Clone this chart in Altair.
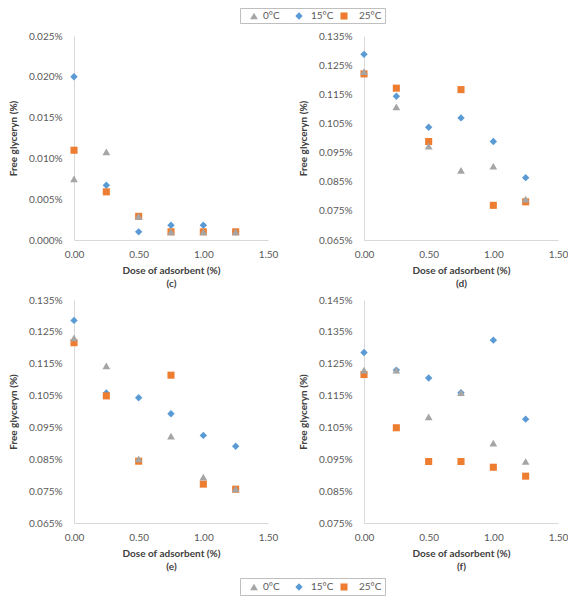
import altair as alt
import pandas as pd

# series and x positions
series = ["0°C", "15°C", "25°C"]
dose = [0.0, 0.25, 0.50, 0.75, 1.00, 1.25]

# free glycerin (%)
c_0C = [0.0075, 0.0108, 0.0029, 0.0010, 0.0010, 0.0010]
c_15C = [0.0200, 0.0067, 0.0010, 0.0018, 0.0018, 0.0010]
c_25C = [0.0110, 0.0059, 0.0029, 0.0010, 0.0010, 0.0010]

d_0C = [0.1228, 0.1107, 0.0972, 0.0889, 0.0903, 0.0790]
d_15C = [0.1287, 0.1143, 0.1037, 0.1069, 0.0988, 0.0864]
d_25C = [0.1220, 0.1171, 0.0988, 0.1166, 0.0769, 0.0781]

e_0C = [0.1231, 0.1143, 0.0851, 0.0923, 0.0794, 0.0757]
e_15C = [0.1286, 0.1058, 0.1043, 0.0993, 0.0925, 0.0891]
e_25C = [0.1216, 0.1049, 0.0844, 0.1114, 0.0772, 0.0756]

f_0C = [0.1230, 0.1230, 0.1083, 0.1159, 0.1001, 0.0943]
f_15C = [0.1285, 0.1230, 0.1205, 0.1159, 0.1324, 0.1076]
f_25C = [0.1216, 0.1049, 0.0943, 0.0943, 0.0925, 0.0897]

# axis ticks
x_ticks = [0.0, 0.5, 1.0, 1.5]
c_ticks = [0.000, 0.005, 0.010, 0.015, 0.020, 0.025]
d_ticks = [0.065, 0.075, 0.085, 0.095, 0.105, 0.115, 0.125, 0.135]
e_ticks = [0.065, 0.075, 0.085, 0.095, 0.105, 0.115, 0.125, 0.135]
f_ticks = [0.075, 0.085, 0.095, 0.105, 0.115, 0.125, 0.135, 0.145]

panels = {
    "c": (c_0C, c_15C, c_25C),
    "d": (d_0C, d_15C, d_25C),
    "e": (e_0C, e_15C, e_25C),
    "f": (f_0C, f_15C, f_25C),
}
# blue drawn first, then orange, grey on top
draw_rank = {"15°C": 0, "25°C": 1, "0°C": 2}

rows = []
for letter, vals in panels.items():
    for s, v in zip(series, vals):
        for d, y in zip(dose, v):
            rows.append({"panel": letter, "series": s, "dose": d,
                         "glycerin": y, "rank": draw_rank[s]})
df = pd.DataFrame(rows).sort_values("rank", kind="stable")

FONT = "Lato"
LABEL = "#595959"
TITLE = "#404040"
LINE = "#d9d9d9"

color_scale = alt.Scale(domain=series, range=["#A5A5A5", "#5B9BD5", "#ED7D31"])
shape_scale = alt.Scale(domain=series, range=["triangle-up", "diamond", "square"])


def panel(letter, ticks, height):
    return alt.Chart(df[df.panel == letter]).mark_point(
        filled=True, opacity=1
    ).encode(
        x=alt.X("dose:Q",
                scale=alt.Scale(domain=[0, 1.5], nice=False, zero=False),
                axis=alt.Axis(values=x_ticks, format=".2f",
                              labelFlush=False, labelOverlap=False,
                              title=["Dose of adsorbent (%)", f"({letter})"])),
        y=alt.Y("glycerin:Q",
                scale=alt.Scale(domain=[ticks[0], ticks[-1]], nice=False, zero=False),
                axis=alt.Axis(values=ticks, labelFlush=False, labelOverlap=False,
                              labelExpr="format(datum.value, '.3f') + '%'",
                              title="Free glyceryn (%)")),
        color=alt.Color("series:N", scale=color_scale, legend=None),
        shape=alt.Shape("series:N", scale=shape_scale, legend=None),
        size=alt.Size("series:N", scale=alt.Scale(domain=series, range=[70, 64, 115]),
                      legend=None),
        order=alt.Order("rank:Q"),
    ).properties(width=194, height=height)


def legend_box(h):
    # legend drawn as its own small view; origin lines up with panel (c)'s plot
    leg = pd.DataFrame({"series": series, "idx": list(range(len(series)))})
    sym = alt.Chart(leg).mark_point(filled=True, opacity=1).encode(
        x=alt.X("idx:Q", scale=alt.Scale(domain=[0, 2], range=[180, 270]), axis=None),
        y=alt.value(h / 2),
        color=alt.Color("series:N", scale=color_scale, legend=None),
        shape=alt.Shape("series:N", scale=shape_scale, legend=None),
        size=alt.Size("series:N", scale=alt.Scale(domain=series, range=[60, 50, 90]),
                      legend=None),
    )
    txt = alt.Chart(leg).mark_text(
        align="left", baseline="middle", font=FONT, fontSize=10, color=LABEL
    ).encode(
        x=alt.X("idx:Q", scale=alt.Scale(domain=[0, 2], range=[189, 285]), axis=None),
        y=alt.value(h / 2),
        text="series:N",
    )
    frame = alt.Chart(pd.DataFrame({"k": [0]})).mark_rect(
        fill="transparent", stroke="#bfbfbf", strokeWidth=1
    ).encode(
        x=alt.value(166.5), x2=alt.value(311.5), y=alt.value(0.5), y2=alt.value(h - 0.5)
    )
    return alt.layer(frame, sym, txt).resolve_scale(x="independent").properties(
        width=320, height=h
    )


row1 = alt.hconcat(panel("c", c_ticks, 204), panel("d", d_ticks, 204), spacing=20)
row2 = alt.hconcat(panel("e", e_ticks, 223), panel("f", f_ticks, 223), spacing=20)

chart = alt.vconcat(
    legend_box(16), row1, row2, legend_box(18), spacing=7
).properties(
    padding=0
).configure_view(
    stroke=None
).configure_axis(
    grid=False, ticks=False, tickSize=0,
    domainColor=LINE, domainWidth=1,
    labelColor=LABEL, labelFont=FONT, labelFontSize=10,
    titleColor=TITLE, titleFont=FONT, titleFontSize=10, titleFontWeight="bold",
).configure_axisX(
    labelPadding=9, titlePadding=6, titleLineHeight=13
).configure_axisY(
    labelPadding=12, titlePadding=10
)

chart.save("out.html", embed_options={"renderer": "svg", "actions": False})
